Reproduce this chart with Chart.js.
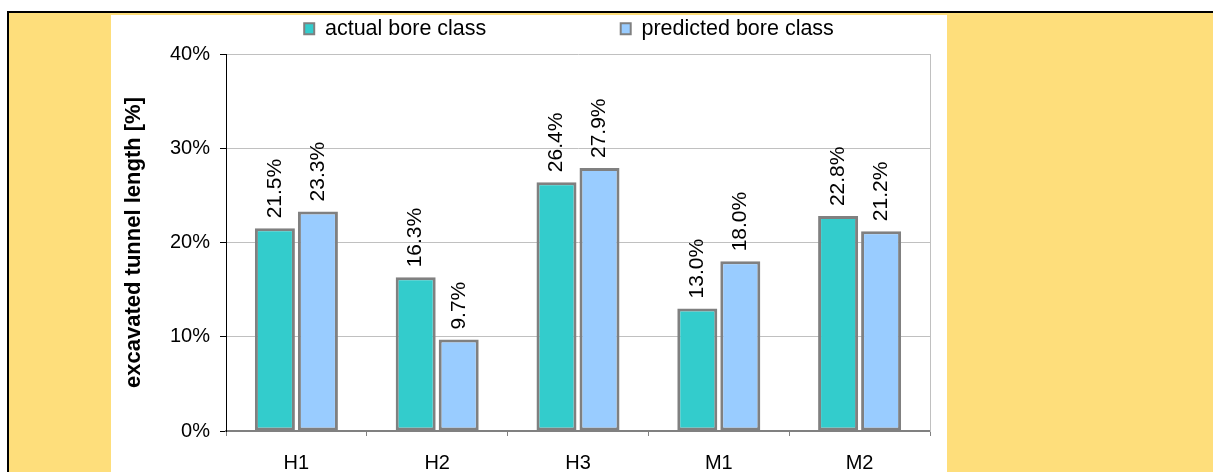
<!DOCTYPE html>
<html>
<head>
<meta charset="utf-8">
<script src="https://cdn.jsdelivr.net/npm/chart.js@4.4.1/dist/chart.umd.min.js"></script>
<style>
  html, body { margin: 0; padding: 0; background: #fff; width: 1213px; height: 472px; overflow: hidden; }
  #frame { position: absolute; left: 7px; top: 11px; right: 0; bottom: 0;
           border-top: 2px solid #000; border-left: 2px solid #000; background: #FEDE7B; }
  #panel { position: absolute; left: 111px; top: 15px; width: 836px; height: 457px; background: #fff; }
  canvas { display: block; }
</style>
</head>
<body>
<div id="frame"></div>
<div id="panel"><canvas id="chart" width="836" height="457"></canvas></div>
<script>
// Share of excavated tunnel length per bore class
const categories = ['H1', 'H2', 'H3', 'M1', 'M2'];
const actualBoreClass = [21.5, 16.3, 26.4, 13.0, 22.8];
const predictedBoreClass = [23.3, 9.7, 27.9, 18.0, 21.2];
const seriesNames = ['actual bore class', 'predicted bore class'];
const yTickValues = [0, 10, 20, 30, 40];
const yAxisTitle = 'excavated tunnel length [%]';

const FONT = '"Liberation Sans", Arial, sans-serif';
Chart.defaults.font.family = FONT;
Chart.defaults.color = '#000';

// Rotated value labels above every bar
const valueLabels = {
  id: 'valueLabels',
  afterDatasetsDraw(chart) {
    const ctx = chart.ctx;
    ctx.save();
    ctx.font = '21px ' + FONT;
    ctx.fillStyle = '#000';
    ctx.textAlign = 'left';
    ctx.textBaseline = 'middle';
    chart.data.datasets.forEach((ds, di) => {
      chart.getDatasetMeta(di).data.forEach((bar, i) => {
        ctx.save();
        ctx.translate(bar.x, bar.y - 10);
        ctx.rotate(-Math.PI / 2);
        ctx.fillText(ds.data[i].toFixed(1) + '%', 0, 0);
        ctx.restore();
      });
    });
    ctx.restore();
  }
};

// Fixed legend band height above the plot
const legendBand = {
  id: 'legendBand',
  afterInit(chart) {
    const legend = chart.legend;
    const fit = legend.fit.bind(legend);
    legend.fit = function () { fit(); this.height = 39; };
  }
};

new Chart(document.getElementById('chart'), {
  type: 'bar',
  data: {
    labels: categories,
    datasets: [
      { label: seriesNames[0], data: actualBoreClass, backgroundColor: '#33CCCC',
        borderColor: '#808080', borderWidth: 3, borderSkipped: false },
      { label: seriesNames[1], data: predictedBoreClass, backgroundColor: '#99CCFF',
        borderColor: '#808080', borderWidth: 3, borderSkipped: false }
    ]
  },
  options: {
    responsive: false,
    animation: false,
    devicePixelRatio: 1,
    categoryPercentage: 0.611,
    barPercentage: 0.93,
    layout: { padding: { left: 0, right: 17, top: 0, bottom: 0 } },
    plugins: {
      tooltip: { enabled: false },
      legend: {
        display: true,
        position: 'top',
        fullSize: false,
        labels: {
          font: { size: 21.5 },
          color: '#000',
          boxWidth: 10,
          boxHeight: 11,
          padding: 3,
          generateLabels(chart) {
            const items = Chart.defaults.plugins.legend.labels.generateLabels(chart);
            items.forEach(it => { it.lineWidth = 2; });
            items[0].text += ' '.repeat(22);
            items[1].text += ' '.repeat(3);
            return items;
          }
        }
      }
    },
    scales: {
      x: {
        grid: { offset: true, drawOnChartArea: false, drawTicks: true, tickLength: 5, color: '#808080' },
        border: { color: '#808080', width: 2 },
        ticks: { font: { size: 20 }, color: '#000', padding: 15 },
        afterFit(scale) { scale.height = 41; }
      },
      y: {
        min: 0,
        max: 40,
        afterBuildTicks(scale) { scale.ticks = yTickValues.map(v => ({ value: v })); },
        grid: { color: '#C0C0C0', tickColor: '#000', tickLength: 6, lineWidth: 1 },
        border: { color: '#000', width: 1 },
        ticks: { font: { size: 20 }, color: '#000', padding: 10, callback: v => v + '%' },
        title: { display: true, text: yAxisTitle, font: { size: 22, weight: 'bold' },
                 color: '#000', padding: { top: 10, bottom: 0 } },
        afterFit(scale) { scale.width = 115; }
      },
      yRight: {
        position: 'right',
        min: 0,
        max: 40,
        grid: { drawOnChartArea: false, drawTicks: false },
        border: { color: '#C0C0C0', width: 1 },
        ticks: { display: false },
        afterFit(scale) { scale.width = 0; }
      }
    }
  },
  plugins: [valueLabels, legendBand]
});
</script>
</body>
</html>
